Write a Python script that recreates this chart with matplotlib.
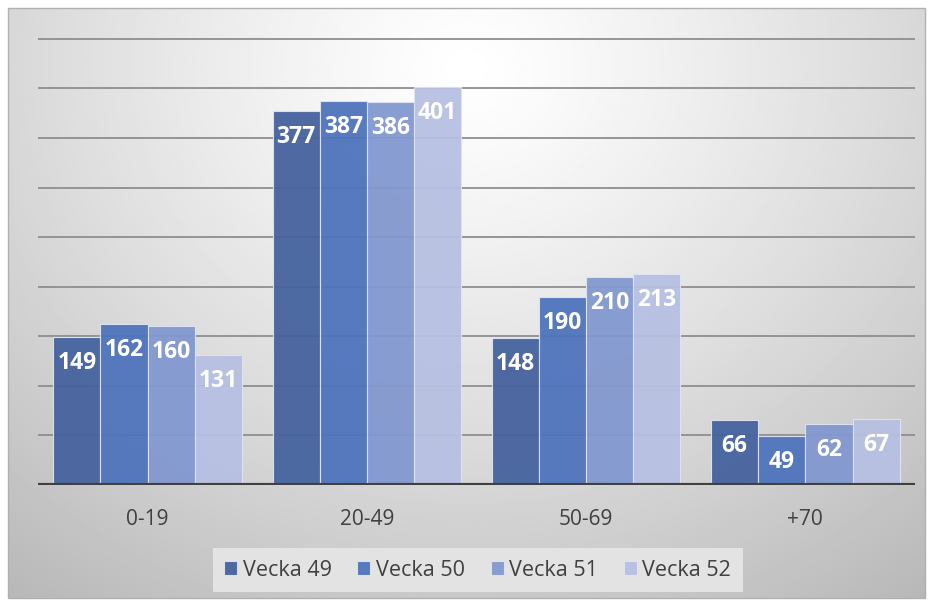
import numpy as np
import matplotlib.pyplot as plt
from matplotlib.patches import Rectangle

plt.rcParams['font.family'] = ['Open Sans', 'DejaVu Sans']

categories = ['0-19', '20-49', '50-69', '+70']
weeks = ['Vecka 49', 'Vecka 50', 'Vecka 51', 'Vecka 52']
v49 = [149, 377, 148, 66]
v50 = [162, 387, 190, 49]
v51 = [160, 386, 210, 62]
v52 = [131, 401, 213, 67]
series = [v49, v50, v51, v52]
colors = ['#46639f', '#4f74bd', '#8298cf', '#b7c0e2']

W, H = 933, 602
fig = plt.figure(figsize=(W / 100, H / 100), dpi=100)
fig.patch.set_facecolor('white')

# gradient background of the chart frame
bg = fig.add_axes([8 / W, 4 / H, 917 / W, 590 / H], zorder=0)
yy, xx = np.mgrid[0:1:300j, 0:1:460j]
r = np.sqrt(((xx - 0.5) / 0.8) ** 2 + ((yy - 0.1) / 1.1) ** 2)
shade = np.clip(1.0 - 0.27 * r ** 1.2, 0, 1)
bg.imshow(shade, cmap='gray', vmin=0, vmax=1, aspect='auto',
          extent=[0, 1, 1, 0], interpolation='bilinear')
bg.set_xlim(0, 1)
bg.set_ylim(1, 0)
bg.axis('off')
bg.add_patch(Rectangle((0, 0), 1, 1, transform=bg.transAxes, fill=False,
                       edgecolor='#b0b0b0', lw=1, clip_on=False))

ax = fig.add_axes([38 / W, (H - 485) / H, 877 / W, 466 / H], zorder=1)
ax.set_facecolor('none')

x = np.arange(len(categories))
w = 0.215
for i, (vals, c, lab) in enumerate(zip(series, colors, weeks)):
    pos = x + (i - 1.5) * w
    ax.bar(pos, vals, w, color=c, edgecolor='#dfe4f2', linewidth=0.8,
           alpha=0.95, label=lab, zorder=2)
    for px, v in zip(pos, vals):
        ax.annotate(str(v), (px, v), xytext=(0, -26), textcoords='offset pixels',
                    ha='center', va='center', color='white', fontsize=16.5,
                    fontweight='bold', zorder=3)

ax.set_xlim(-0.5, 3.5)
ax.set_ylim(0, 470)
ax.set_yticks(np.arange(50, 451, 50))
ax.yaxis.grid(True, color='#8e8e8e', lw=1.3, zorder=1)
ax.set_axisbelow(True)
ax.tick_params(axis='y', left=False, labelleft=False)
ax.set_xticks(x)
ax.set_xticklabels(categories, fontsize=15, color='#404040')
ax.tick_params(axis='x', bottom=False, pad=14)
for s in ax.spines.values():
    s.set_visible(False)
ax.axhline(0, color='#404040', lw=3, zorder=4)

leg = fig.legend(loc='center', bbox_to_anchor=(477.5 / W, 32 / H), ncol=4,
                 fontsize=15.5, frameon=True, fancybox=False, facecolor='#e3e3e3',
                 edgecolor='none', framealpha=1, handlelength=0.6, handleheight=0.6,
                 handletextpad=0.25, columnspacing=1.2, borderpad=0.55)
for t in leg.get_texts():
    t.set_color('#404040')

fig.savefig('out.png', dpi=100)
